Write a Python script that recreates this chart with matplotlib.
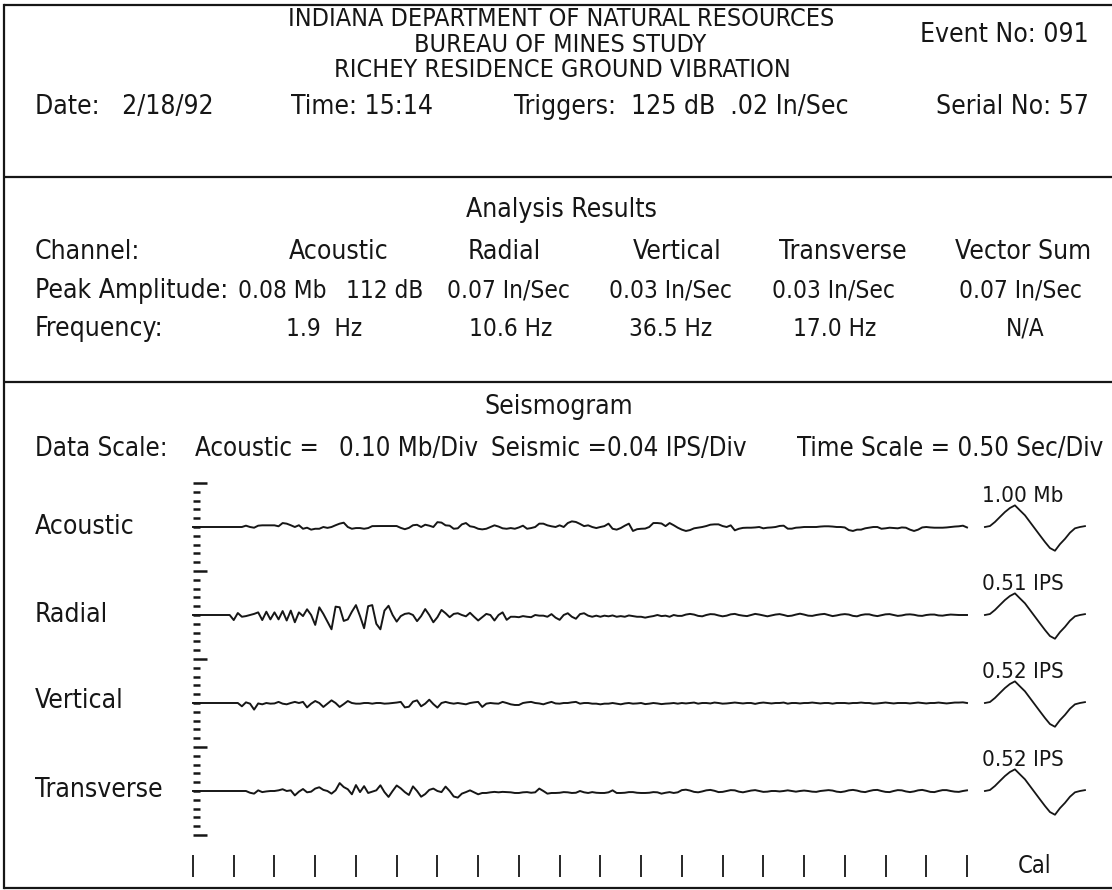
import numpy as np
import matplotlib
matplotlib.use("Agg")
import matplotlib.pyplot as plt

plt.rcParams["font.family"] = ["DejaVu Sans"]
plt.rcParams["font.stretch"] = "condensed"

# report header
title_lines = ["INDIANA DEPARTMENT OF NATURAL RESOURCES",
               "BUREAU OF MINES STUDY",
               "RICHEY RESIDENCE GROUND VIBRATION"]
event_no = "091"
date = "2/18/92"
time_str = "15:14"
triggers = "125 dB  .02 In/Sec"
serial_no = "57"

# analysis results
channels = ["Acoustic", "Radial", "Vertical", "Transverse", "Vector Sum"]
peak_amp = ["0.08 Mb", "112 dB", "0.07 In/Sec", "0.03 In/Sec", "0.03 In/Sec", "0.07 In/Sec"]
frequency = ["1.9  Hz", "10.6 Hz", "36.5 Hz", "17.0 Hz", "N/A"]

# seismogram scales
acoustic_scale = 0.10   # Mb/Div
seismic_scale = 0.04    # IPS/Div
time_scale = 0.50       # Sec/Div
record_len = 9.5        # sec shown
cal_labels = ["1.00 Mb", "0.51 IPS", "0.52 IPS", "0.52 IPS"]

# traces, sampled every 0.05 s (acoustic in Mb, seismic in In/Sec)
acoustic = [0] * 13 + [
    0.015, 0.0, -0.008, 0.015, 0.019, 0.019, 0.019, 0.019, 0.008, 0.045,
    0.038, 0.02, 0.0, 0.02, -0.02, -0.008, -0.03, -0.02, -0.02, 0.0,
    -0.01, 0.0, 0.02, 0.038, 0.049, 0.0, -0.02, -0.012, -0.012, -0.02,
    -0.012, 0.01, 0.011, 0.011, 0.011, 0.011, 0.011, 0.011, -0.01, -0.025,
    -0.01, 0.02, 0.025, 0.0, 0.026, 0.015, 0.0, 0.055, 0.05, 0.019,
    0.015, -0.02, -0.015, 0.03, 0.045, 0.008, 0.0, -0.02, -0.027, -0.02,
    0.0, 0.019, 0.005, -0.015, -0.02, -0.012, -0.02, -0.005, 0.015, -0.02,
    -0.012, 0.0, 0.038, 0.038, 0.019, 0.008, 0.0, 0.019, 0.0, 0.045,
    0.064, 0.057, 0.035, 0.01, 0.019, 0.0, -0.012, 0.0, 0.01, 0.038,
    -0.02, -0.03, -0.012, 0.015, 0.038, -0.045, -0.025, -0.02, -0.018, 0.0,
    0.045, 0.045, 0.04, 0.01, 0.045, 0.02, -0.008,
    -0.03, -0.045, -0.035, -0.015, -0.008, 0.0, 0.011, 0.026, 0.03, 0.03,
    0.011, 0.0, 0.019, -0.038, -0.02, -0.01, -0.008, -0.008, -0.005, 0.0,
    -0.015, -0.008, -0.005, 0.0, 0.012, 0.015, -0.019, -0.019, -0.008, -0.005,
    0.0, 0.0, 0.0, 0.0, 0.005, 0.008, 0.008, 0.005, 0.0, 0.0,
    -0.005, -0.035, -0.045, -0.03, -0.03, -0.015, -0.008, 0.0, 0.0, -0.02,
    -0.015, -0.008, -0.012, -0.015, -0.005, -0.008, -0.03, -0.045, -0.03, -0.005,
    0.0, -0.005, -0.008, -0.008, -0.008, -0.005, 0.0, 0.005, 0.008, 0.015, -0.005]

radial = [0] * 10 + [
    -0.023, 0.009, -0.008, -0.005, 0.0, 0.005, 0.012, -0.023, 0.015, -0.02,
    0.012, -0.02, 0.018, -0.025, 0.02, -0.033, 0.012, -0.005, 0.026, 0.0,
    -0.045, 0.035, 0.005, -0.03, -0.065, 0.038, 0.035, -0.027, -0.02, 0.015,
    0.045, -0.005, -0.06, 0.04, 0.045, -0.04, -0.065, 0.02, 0.042, 0.0,
    -0.03, -0.005, 0.005, 0.008, 0.0, -0.028, -0.005, 0.027, 0.0, -0.033,
    -0.01, 0.023, 0.008, -0.01, 0.005, 0.008, 0.0, -0.006, 0.01, -0.008,
    -0.025, -0.01, 0.005, 0.0, -0.025, 0.0, 0.012, -0.022, -0.008, -0.008,
    -0.01, -0.005, -0.008, -0.01, 0.0, -0.003, -0.003, -0.008, 0.004, -0.012,
    -0.022, 0.0, 0.008, -0.008, -0.017, 0.004, 0.008, -0.003, -0.008, -0.003,
    -0.008, -0.003, -0.006, -0.002, -0.008, -0.005, -0.008, -0.002, -0.005, -0.008,
    -0.008, -0.012, -0.008, -0.005, 0.0, -0.005, -0.003, -0.008, 0.0, -0.004,
    -0.004, 0.002, 0.005, 0.002, -0.004, -0.006, 0.0, 0.004, 0.003, -0.002,
    -0.006, -0.003, 0.003, 0.005, 0.0, -0.003, -0.005, 0.0, 0.005, 0.002,
    -0.002, -0.006, -0.002, 0.002, 0.004, 0.0, -0.005, -0.003, 0.002, 0.006,
    0.002, -0.003, -0.004, 0.0, 0.003, 0.005, 0.0, -0.005, -0.002, 0.002,
    0.004, 0.002, -0.004, -0.006, 0.0, 0.003, 0.003, -0.002, -0.005, -0.001,
    0.003, 0.004, 0.0, -0.004, -0.002, 0.002, 0.003, 0.001, -0.003, -0.004,
    0.0, 0.002, 0.002, -0.002, -0.003, 0.0, 0.002, 0.001, 0.0, 0.0, 0.0]

vertical = [0] * 12 + [
    -0.015, 0.003, -0.003, -0.03, -0.002, -0.006, 0.0, -0.003, -0.002, 0.005,
    -0.003, -0.006, 0.0, 0.005, 0.0, 0.005, -0.02, -0.003, 0.009, 0.0,
    -0.018, -0.003, 0.012, 0.0, -0.018, -0.005, 0.009, 0.0, -0.003, -0.003,
    0.0, 0.0, -0.003, 0.0, 0.0, -0.003, -0.002, 0.0, 0.002, 0.005,
    -0.02, -0.017, 0.006, 0.012, -0.015, -0.003, 0.015, -0.005, -0.021, 0.0,
    0.005, 0.0, -0.003, 0.0, -0.003, -0.006, 0.0, 0.003, 0.005, -0.018,
    -0.003, 0.0, -0.002, -0.003, 0.005, 0.0, -0.006, -0.009, -0.009, 0.0,
    0.003, 0.005, 0.0, -0.002, -0.006, 0.0, 0.005, -0.002, -0.003, 0.0,
    0.0, 0.003, 0.005, -0.003, 0.0, 0.0, -0.003, -0.003, -0.006, -0.003,
    -0.003, 0.0, -0.003, -0.006, -0.002, 0.0, -0.003, -0.002, 0.0, -0.005,
    -0.003, 0.0, -0.002, -0.005, -0.003, -0.002, 0.0, -0.003,
    0.0, -0.002, 0.0, 0.002, -0.003, 0.0, 0.0, -0.002, 0.002, 0.0,
    -0.003, -0.002, 0.0, 0.002, 0.0, -0.002, 0.0, 0.0, -0.004, 0.0,
    0.002, 0.0, -0.002, 0.0, 0.0, 0.002, -0.003, 0.0, 0.0, -0.002,
    0.0, 0.0, 0.002, 0.0, -0.002, 0.0, 0.0, -0.003, 0.0, 0.0,
    0.0, -0.002, 0.0, 0.0, 0.002, 0.0, 0.0, -0.003, -0.002, 0.0,
    0.002, 0.0, -0.002, 0.0, 0.0, 0.0, -0.002, 0.0, 0.002, 0.0,
    -0.002, 0.0, 0.0, 0.002, 0.0, -0.002, 0.0, 0.002, 0.002, 0.003, 0.0]

transverse = [0] * 14 + [
    -0.008, -0.012, 0.003, -0.005, -0.002, 0.0, 0.0, 0.003, 0.008, 0.0,
    0.003, -0.02, -0.003, 0.009, -0.006, -0.003, 0.011, 0.017, 0.005, 0.0,
    -0.012, 0.003, 0.036, 0.018, 0.008, -0.015, 0.027, -0.005, 0.022, -0.009,
    -0.003, 0.003, 0.026, -0.005, -0.027, 0.0, 0.025, 0.012, -0.005, -0.018,
    0.021, 0.0, -0.026, -0.014, 0.005, 0.011, 0.0, -0.005, 0.02, 0.0,
    -0.025, -0.03, -0.012, -0.005, 0.003, -0.006, -0.015, -0.009, -0.009, -0.006,
    -0.004, -0.006, -0.004, -0.005, -0.006, -0.009, -0.009, -0.006, -0.005, -0.008,
    -0.006, 0.011, 0.0, -0.012, -0.009, -0.009, -0.008, -0.005, -0.006, -0.009,
    -0.008, 0.0, -0.006, -0.009, -0.005, -0.008, -0.009, -0.009, -0.006, 0.003,
    -0.009, -0.009, -0.008, -0.005, -0.005, -0.008, -0.009, -0.009, -0.008, -0.005,
    -0.006, -0.012, -0.008, -0.005, -0.009, -0.006,
    0.004, 0.006, 0.002, -0.004, -0.006, -0.002, 0.003, 0.005, 0.001, -0.005,
    -0.004, 0.0, 0.004, 0.003, -0.003, -0.006, -0.002, 0.002, 0.004, 0.0,
    -0.004, -0.003, 0.0, 0.0, -0.002, 0.0, 0.003, 0.0, -0.003, 0.0,
    0.002, 0.0, -0.003, -0.004, 0.0, 0.002, 0.004, 0.002, -0.003, -0.005,
    -0.002, 0.003, 0.005, 0.002, -0.003, -0.005, 0.0, 0.004, 0.005, 0.0,
    -0.004, -0.005, 0.0, 0.004, 0.003, -0.002, -0.005, -0.002, 0.003, 0.005,
    0.001, -0.004, -0.005, 0.0, 0.004, 0.004, 0.0, -0.003, -0.004, 0.0, 0.003]

# calibration pulse (divisions), one sample every 0.0614 s
cal_shape = [0.0, 0.11, 0.57, 1.14, 1.70, 2.16, 2.46, 1.89, 1.33, 0.57, -0.19,
             -0.95, -1.70, -2.39, -2.70, -1.95, -1.35, -0.65, -0.15, 0.0, 0.1]
cal_start = 9.72
cal_step = 0.0614

ink = "#161616"
fig = plt.figure(figsize=(11.12, 8.9), dpi=100)
fig.patch.set_facecolor("white")

# page axes in pixel units for the printed form
ax = fig.add_axes([0, 0, 1, 1])
ax.set_xlim(0, 1112)
ax.set_ylim(890, 0)
ax.axis("off")

ax.plot([4, 4], [5, 888], color=ink, lw=1.6)
ax.hlines([5, 177, 382, 888], 4, 1112, color=ink, lw=1.6)

def txt(x, y, s, size=19, ha="left"):
    ax.text(x, y, s, fontsize=size, ha=ha, va="center", color=ink)

# header
txt(561, 19, title_lines[0], 18, ha="center")
txt(560, 45, title_lines[1], 18, ha="center")
txt(562, 70, title_lines[2], 18, ha="center")
txt(1089, 35, "Event No: " + event_no, ha="right")
txt(35, 107, "Date:   " + date)
txt(291, 107, "Time: " + time_str)
txt(514, 107, "Triggers:  " + triggers)
txt(1089, 107, "Serial No: " + serial_no, ha="right")

# analysis results
txt(561, 210, "Analysis Results", ha="center")
txt(35, 252, "Channel:")
for x, c in zip([339, 504, 677, 843, 1023], channels):
    txt(x, 252, c, ha="center")
txt(35, 291, "Peak Amplitude:")
txt(238, 291, peak_amp[0], 17.5)
txt(346, 291, peak_amp[1], 17.5)
for x, v in zip([508, 670, 833, 1020], peak_amp[2:]):
    txt(x, 291, v, 17.5, ha="center")
txt(35, 329, "Frequency:")
for x, v in zip([324, 511, 671, 835, 1025], frequency):
    txt(x, 329, v, 17.5, ha="center")

# seismogram
txt(559, 407, "Seismogram", ha="center")
txt(35, 449, "Data Scale:", 18.5)
txt(195, 449, "Acoustic =", 18.5)
txt(339, 449, "%.2f Mb/Div" % acoustic_scale, 18.5)
txt(491, 449, "Seismic =%.2f IPS/Div" % seismic_scale, 18.5)
txt(1103, 449, "Time Scale = %.2f Sec/Div" % time_scale, 18.5, ha="right")
for y, c in zip([527, 615, 701, 790], channels[:4]):
    txt(35, y, c)
txt(1035, 866, "Cal", 17, ha="center")

sx = fig.add_axes([193 / 1112, 55 / 890, 774 / 1112, 352 / 890])
sx.set_xlim(0, record_len)
sx.set_ylim(0, 40)
sx.patch.set_visible(False)
for sp in sx.spines.values():
    sp.set_visible(False)
sx.set_xticks([])
sx.set_yticks(np.arange(0, 41, 10))
sx.set_yticks(np.arange(0, 41, 1), minor=True)
sx.tick_params(axis="y", which="both", direction="in", labelleft=False, width=1.8, color=ink)
sx.tick_params(axis="y", which="major", length=10)
sx.tick_params(axis="y", which="minor", length=5)

offsets = [35, 25, 15, 5]
scales = [acoustic_scale, seismic_scale, seismic_scale, seismic_scale]
for vals, off, sc in zip([acoustic, radial, vertical, transverse], offsets, scales):
    t = np.linspace(0, record_len, len(vals))
    sx.plot(t, off + np.array(vals) / sc, color=ink, lw=1.4, clip_on=False)

ct = cal_start + np.arange(len(cal_shape)) * cal_step
for off, lab in zip(offsets, cal_labels):
    sx.plot(ct, off + np.array(cal_shape), color=ink, lw=1.3, clip_on=False)
    sx.text(cal_start - 0.03, off + 3.5, lab, fontsize=16, va="center", ha="left", color=ink)

# timing marks under the record
sx.vlines(np.arange(0, record_len + 0.01, time_scale), -4.77, -2.27, color=ink, lw=1.3, clip_on=False)

fig.savefig("out.png", dpi=100)
